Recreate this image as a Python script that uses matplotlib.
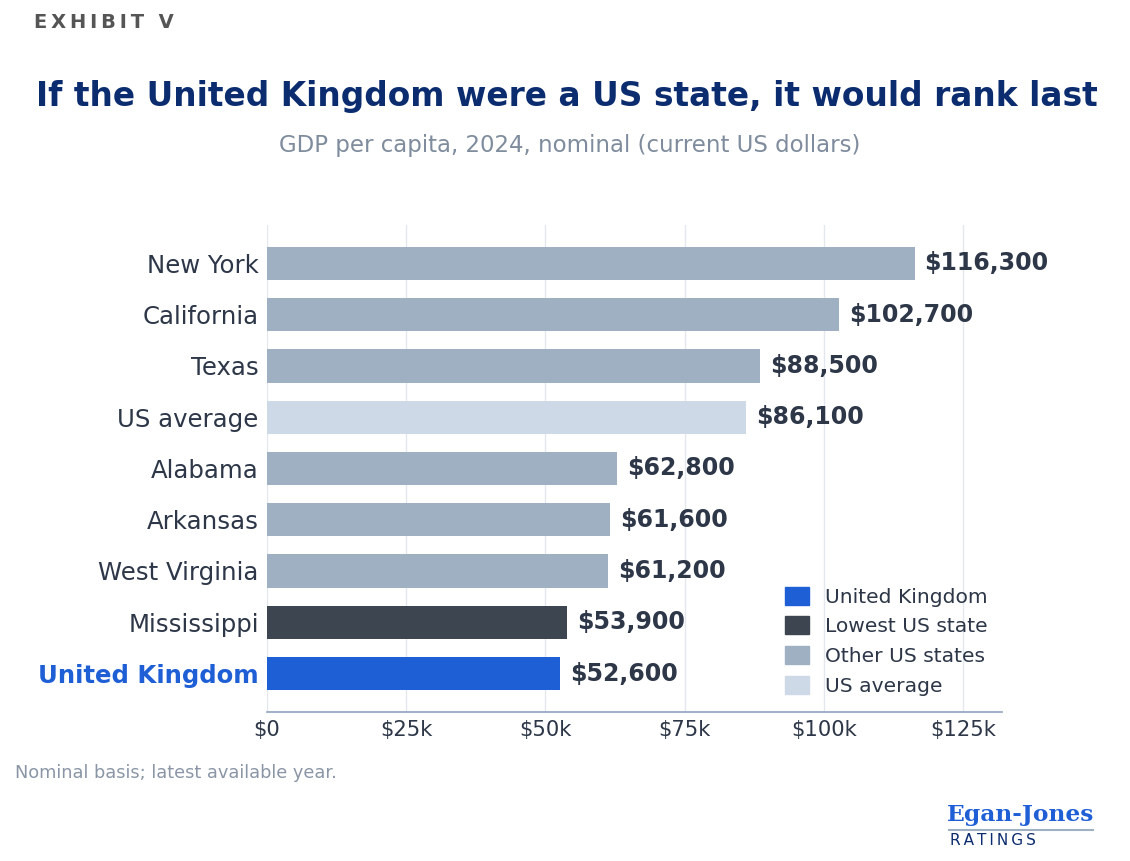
import matplotlib
matplotlib.use("Agg")
from matplotlib import pyplot as plt
from matplotlib.patches import Patch
from matplotlib.ticker import FuncFormatter

plt.rcParams["font.family"] = ["DejaVu Sans"]

# data (top to bottom)
labels = ["New York", "California", "Texas", "US average", "Alabama",
          "Arkansas", "West Virginia", "Mississippi", "United Kingdom"]
values = [116300, 102700, 88500, 86100, 62800, 61600, 61200, 53900, 52600]
groups = ["other", "other", "other", "avg", "other", "other", "other", "lowest", "uk"]

colours = {"uk": "#1f5fd6", "lowest": "#3c4550", "other": "#9fb0c3", "avg": "#cdd9e6"}
legend_names = [("uk", "United Kingdom"), ("lowest", "Lowest US state"),
                ("other", "Other US states"), ("avg", "US average")]

text_dark = "#2d3748"

fig = plt.figure(figsize=(11.3, 8.61), dpi=100)
ax = fig.add_axes([0.2363, 0.1731, 0.8867 - 0.2363, 0.7387 - 0.1731])

ypos = list(range(len(labels)))[::-1]
ax.barh(ypos, values, height=0.65, color=[colours[g] for g in groups], zorder=3)

for y, v in zip(ypos, values):
    ax.text(v + 1800, y, f"${v:,}", va="center", ha="left", fontsize=17,
            fontweight="bold", color=text_dark, zorder=4)

ax.set_xlim(0, 132000)
ax.set_ylim(-0.75, 8.75)
ax.set_yticks(ypos)
ax.set_yticklabels(labels, fontsize=17.6, color=text_dark)
for lbl in ax.get_yticklabels():
    if lbl.get_text() == "United Kingdom":
        lbl.set_color("#1f5fd6")
        lbl.set_fontweight("bold")
ax.set_xticks([0, 25000, 50000, 75000, 100000, 125000])
ax.xaxis.set_major_formatter(FuncFormatter(lambda x, p: "$0" if x == 0 else f"${int(x/1000)}k"))
ax.tick_params(axis="x", labelsize=15.2, labelcolor=text_dark, length=0, pad=6)
ax.tick_params(axis="y", length=0, pad=6)

ax.grid(axis="x", color="#e4e7ee", linewidth=1, zorder=0)
for s in ["top", "right", "left"]:
    ax.spines[s].set_visible(False)
ax.spines["bottom"].set_color("#8fa3c0")
ax.spines["bottom"].set_linewidth(1.2)

handles = [Patch(color=colours[k], label=name) for k, name in legend_names]
ax.legend(handles=handles, loc="lower right", bbox_to_anchor=(1.0, 0.004),
          frameon=False, fontsize=14.6, handlelength=1.2, handleheight=1.0,
          handletextpad=0.8, labelcolor=text_dark, borderaxespad=0.3,
          labelspacing=0.48)

fig.text(0.03, 0.974, "\u2009".join("EXHIBIT V"), fontsize=14, fontweight="bold",
         color="#555555", ha="left", va="center")
fig.text(0.502, 0.888, "If the United Kingdom were a US state, it would rank last",
         fontsize=23.7, fontweight="bold", color="#0b2c6e", ha="center", va="center")
fig.text(0.504, 0.831, "GDP per capita, 2024, nominal (current US dollars)",
         fontsize=16.5, color="#7f8c9d", ha="center", va="center")
fig.text(0.013, 0.102, "Nominal basis; latest available year.", fontsize=12.8,
         color="#8a96a6", ha="left", va="center")

fig.text(0.903, 0.053, "Egan-Jones", fontsize=16.8, fontweight="bold", family="DejaVu Serif",
         color="#1f5fd6", ha="center", va="center")
fig.add_artist(plt.Line2D([0.84, 0.967], [0.036, 0.036], color="#9fb0c3", linewidth=1.5))
fig.text(0.841, 0.024, "\u2009".join("RATINGS"), fontsize=11, color="#0b2c6e",
         ha="left", va="center")

fig.savefig("out.png", dpi=100)
